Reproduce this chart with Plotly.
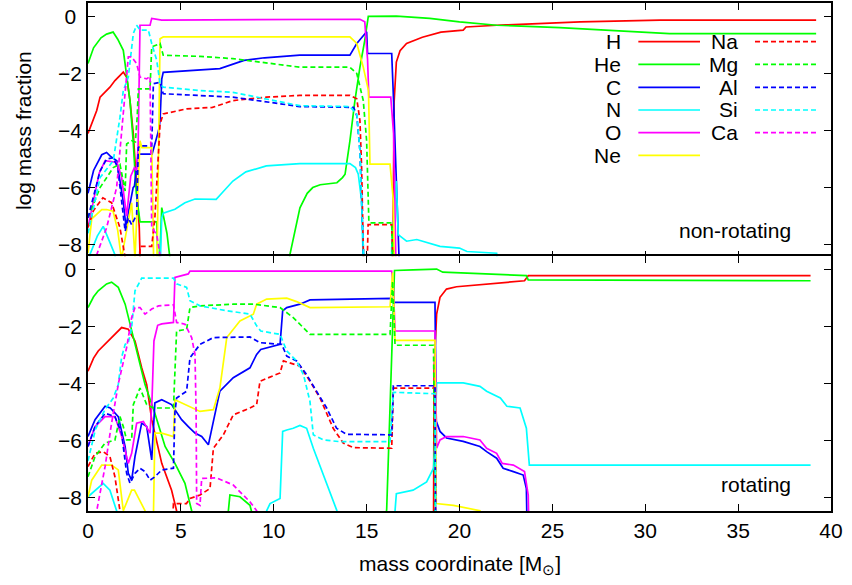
import plotly.graph_objects as go
from plotly.subplots import make_subplots

# ---------------- non-rotating (top panel) ----------------
nr_H_x = [0, 0.47, 0.65, 1.18, 1.45, 1.9, 2.08, 2.26, 2.44, 2.62, 2.76, 2.85, 16.4, 16.48, 16.6, 16.8, 17.15, 18.0, 19.0, 20.2, 20.35, 22.0, 26.5, 30.8, 39.2]
nr_H_y = [-4.1, -3.3, -2.83, -2.48, -2.25, -1.95, -2.13, -2.95, -4.12, -6.0, -7.41, -9.5, -9.5, -3.0, -1.6, -1.2, -0.95, -0.73, -0.55, -0.48, -0.37, -0.31, -0.19, -0.13, -0.13]
nr_He_x = [0, 0.3, 0.7, 1.0, 1.35, 1.6, 1.9, 2.26, 2.43, 2.6, 2.8, 3.7, 3.8, 3.97, 4.25, 4.6, 10.7, 10.87, 11.41, 11.8, 12.1, 12.5, 13.4, 13.7, 13.84, 14.1, 14.37, 14.64, 14.9, 15.09, 16.6, 18.4, 20.0, 22.0, 25.4, 31.3, 39.2]
nr_He_y = [-1.65, -1.1, -0.75, -0.62, -0.55, -0.8, -1.19, -2.95, -4.36, -6.2, -7.2, -7.2, -9.5, -6.7, -7.6, -9.5, -9.5, -8.35, -6.71, -6.2, -6.0, -5.9, -5.83, -5.65, -5.53, -4.36, -2.95, -1.78, -0.84, 0.0, 0.01, -0.07, -0.19, -0.31, -0.39, -0.6, -0.6]
nr_C_x = [0, 0.3, 0.74, 1.0, 1.2, 1.55, 1.9, 2.0, 2.05, 2.15, 2.43, 2.5, 2.65, 2.7, 3.45, 3.8, 3.88, 3.97, 4.05, 6.03, 7.1, 8.4, 9.5, 11.4, 14.1, 14.47, 14.8, 15.0, 15.05, 16.35, 16.45, 16.8]
nr_C_y = [-6.2, -5.4, -4.85, -4.77, -4.9, -5.06, -6.5, -7.0, -7.4, -6.95, -6.0, -5.95, -5.2, -4.83, -4.83, -4.0, -3.65, -2.2, -1.96, -1.89, -1.83, -1.54, -1.45, -1.36, -1.36, -0.95, -0.7, -0.54, -1.3, -1.3, -2.95, -9.5]
nr_N_x = [0.05, 0.1, 0.5, 0.82, 1.1, 1.45, 1.6, 3.85, 3.97, 4.05, 4.68, 5.22, 5.76, 6.9, 7.2, 7.8, 8.5, 9.6, 11.4, 14.1, 14.4, 14.55, 14.73, 14.8, 14.85, 16.3, 16.35, 16.6, 16.7, 17.15, 17.7, 18.95, 20.0, 20.4, 22.0, 22.1]
nr_N_y = [-9.5, -8.35, -7.7, -7.36, -7.8, -8.35, -9.5, -9.5, -7.06, -6.9, -6.76, -6.53, -6.4, -6.41, -6.2, -5.77, -5.45, -5.24, -5.16, -5.16, -5.3, -5.53, -6.47, -8.35, -9.5, -9.5, -8.12, -5.77, -7.65, -7.88, -7.82, -8.06, -8.12, -8.24, -8.3, -9.5]
nr_O_x = [0, 0.3, 0.6, 0.92, 1.55, 1.8, 2.08, 2.3, 2.5, 2.62, 2.7, 2.8, 3.34, 3.43, 3.97, 14.64, 14.9, 15.05, 15.12, 16.3, 16.45, 16.6]
nr_O_y = [-7.4, -6.5, -5.5, -5.06, -5.12, -5.6, -7.0, -5.6, -5.3, -5.4, -4.5, -0.31, -0.31, -0.07, -0.13, -0.1, -0.19, -1.5, -2.83, -2.83, -4.1, -9.5]
nr_Ne_x = [0, 0.2, 0.74, 1.0, 1.35, 1.6, 1.8, 2.35, 2.53, 2.62, 2.8, 2.9, 3.43, 3.5, 3.55, 3.7, 3.85, 3.88, 4.05, 11.4, 14.1, 14.47, 14.82, 15.1, 15.14, 15.18, 16.26, 16.44, 16.5]
nr_Ne_y = [-8.3, -7.1, -6.77, -6.77, -6.83, -7.5, -8.5, -6.53, -8.5, -6.95, -4.36, -4.6, -4.6, -6.95, -9.5, -9.5, -1.5, -0.78, -0.72, -0.72, -0.72, -0.95, -1.78, -2.6, -4.36, -5.18, -5.18, -6.47, -9.5]
nr_Na_x = [0, 0.3, 0.8, 1.27, 1.72, 2.0, 2.05, 2.7, 2.8, 3.43, 3.6, 3.77, 3.88, 4.05, 5.3, 6.7, 7.8, 9.6, 11.4, 14.1, 14.47, 14.64, 14.73, 14.82, 14.9, 15.0, 15.08, 16.35, 16.45]
nr_Na_y = [-7.4, -6.8, -6.36, -6.53, -7.41, -8.45, -9.5, -9.5, -8.06, -8.06, -7.06, -4.83, -3.77, -3.42, -3.24, -3.19, -2.95, -2.83, -2.77, -2.77, -2.89, -3.65, -5.3, -8.12, -9.5, -9.5, -7.3, -7.3, -9.5]
nr_Mg_x = [0, 0.65, 1.36, 1.72, 2.0, 2.08, 2.35, 2.55, 2.65, 2.71, 3.34, 3.43, 3.88, 4.05, 6.03, 7.8, 11.4, 14.1, 14.47, 14.82, 15.0, 15.12, 15.2, 16.35, 16.45]
nr_Mg_y = [-7.06, -6.0, -5.3, -5.18, -6.12, -4.47, -4.36, -4.4, -3.5, -2.54, -2.54, -1.07, -0.95, -1.36, -1.4, -1.48, -1.78, -1.78, -2.0, -2.95, -4.36, -7.18, -7.24, -7.24, -9.5]
nr_Al_x = [0, 0.65, 1.0, 1.36, 1.6, 2.0, 2.17, 2.35, 2.62, 2.71, 2.8, 3.43, 3.52, 3.88, 4.05, 6.03, 7.8, 11.4, 14.3, 14.47, 14.64, 14.73, 14.82, 14.9]
nr_Al_y = [-7.06, -5.42, -5.0, -4.95, -5.3, -7.53, -7.06, -7.3, -6.95, -4.6, -4.54, -4.54, -2.36, -2.31, -2.71, -2.77, -2.83, -3.16, -3.19, -3.48, -4.71, -6.47, -8.12, -9.5]
nr_Si_x = [0, 0.65, 1.36, 1.72, 1.9, 2.17, 2.44, 2.62, 2.8, 3.25, 3.43, 3.7, 3.88, 4.05, 6.03, 7.8, 11.4, 14.1, 14.47, 14.64, 14.73, 14.82, 14.9]
nr_Si_y = [-7.6, -5.65, -5.06, -3.54, -2.6, -2.13, -0.6, -0.31, -0.48, -0.48, -0.95, -1.54, -2.36, -2.48, -2.6, -2.66, -3.13, -3.16, -3.42, -4.71, -6.47, -8.12, -9.5]
nr_Ca_x = [0.4, 0.47, 1.0, 1.54, 1.72, 1.9, 2.08, 2.17, 2.35, 2.62, 2.8, 3.16, 3.34, 3.43, 3.7, 3.9, 3.95]
nr_Ca_y = [-9.5, -8.35, -7.41, -6.0, -4.71, -3.3, -2.01, -1.42, -1.42, -1.66, -2.13, -2.19, -2.1, -7.4, -7.65, -8.45, -9.5]

# ---------------- rotating (bottom panel) ----------------
r_H_x = [0, 0.3, 0.55, 0.92, 1.45, 1.81, 2.17, 2.53, 2.89, 3.16, 3.43, 3.97, 4.5, 4.77, 4.8, 18.6, 18.63, 18.77, 18.95, 19.3, 19.84, 21.1, 22.9, 23.5, 23.7, 38.9]
r_H_y = [-3.56, -3.1, -2.85, -2.62, -2.27, -2.03, -2.09, -2.5, -3.44, -4.03, -5.26, -6.79, -7.73, -8.45, -9.5, -9.5, -3.5, -1.56, -0.97, -0.68, -0.6, -0.53, -0.44, -0.39, -0.21, -0.21]
r_He_x = [0, 0.3, 0.55, 1.0, 1.27, 1.63, 2.0, 2.35, 2.71, 3.07, 3.6, 4.15, 4.68, 5.22, 5.58, 5.62, 7.4, 7.64, 8.18, 8.72, 9.2, 15.9, 16.08, 16.5, 17.5, 18.77, 19.1, 21.1, 23.6, 23.7, 38.9]
r_He_y = [-1.33, -0.95, -0.74, -0.5, -0.44, -0.62, -1.21, -2.15, -3.09, -4.03, -5.03, -6.2, -6.79, -7.49, -8.45, -9.5, -9.5, -7.9, -7.96, -8.26, -9.5, -9.5, -8.4, -0.03, -0.01, 0.02, -0.09, -0.15, -0.21, -0.36, -0.39]
r_C_x = [0, 0.38, 0.92, 1.2, 1.63, 2.0, 2.17, 2.35, 2.53, 2.89, 3.16, 3.43, 3.6, 3.97, 4.5, 5.04, 5.4, 5.76, 6.12, 6.48, 6.75, 7.1, 7.82, 8.72, 9.08, 9.3, 10.34, 10.48, 10.7, 11.41, 11.95, 16.35, 16.45, 18.68, 18.75, 18.95, 19.3, 20.2, 21.1, 21.46, 22.0, 22.35, 22.9, 23.43, 23.6, 23.65]
r_C_y = [-5.85, -5.26, -4.79, -4.85, -5.15, -6.2, -7.14, -7.38, -6.55, -5.38, -5.5, -6.67, -4.67, -4.56, -4.73, -5.26, -5.5, -5.73, -5.85, -6.14, -5.32, -4.26, -3.79, -3.44, -2.97, -2.8, -2.62, -1.44, -1.33, -1.21, -1.06, -1.01, -1.15, -1.15, -5.32, -5.67, -5.9, -6.02, -6.2, -6.38, -6.61, -6.96, -7.08, -7.2, -7.67, -9.5]
r_N_x = [0, 0.38, 0.82, 1.18, 1.54, 1.6, 9.55, 9.62, 9.8, 10.34, 10.48, 10.7, 11.05, 11.41, 11.77, 12.13, 13.4, 13.45, 16.45, 16.53, 16.6, 17.5, 18.23, 18.6, 18.68, 18.77, 20.2, 21.1, 21.46, 22.2, 22.55, 23.26, 23.6, 23.76, 38.9]
r_N_y = [-7.96, -7.73, -7.49, -7.73, -8.45, -9.5, -9.5, -8.45, -8.2, -8.02, -5.67, -5.62, -5.56, -5.46, -5.56, -6.26, -8.45, -9.5, -9.5, -8.45, -7.85, -7.73, -7.44, -6.96, -6.0, -3.97, -3.97, -4.09, -4.26, -4.5, -4.79, -4.85, -5.56, -6.85, -6.85]
r_O_x = [0, 0.38, 0.92, 1.45, 1.81, 2.17, 2.35, 2.62, 2.98, 3.34, 3.45, 3.55, 3.75, 3.97, 4.6, 4.68, 5.4, 5.49, 16.35, 16.44, 16.53, 18.68, 18.77, 18.95, 19.3, 20.2, 21.1, 21.46, 22.0, 22.3, 22.9, 23.5, 23.7, 23.75]
r_O_y = [-6.2, -5.5, -5.15, -5.15, -5.85, -6.79, -6.44, -5.38, -5.32, -5.73, -4.5, -2.5, -1.95, -1.9, -1.85, -0.27, -0.15, -0.05, -0.05, -0.62, -2.15, -2.15, -6.26, -5.97, -5.85, -5.85, -5.97, -6.26, -6.44, -6.79, -6.85, -7.08, -7.9, -9.5]
r_Ne_x = [0, 0.2, 0.74, 1.27, 1.63, 1.9, 2.35, 2.5, 3.07, 3.1, 3.5, 3.6, 3.97, 4.6, 4.68, 5.04, 5.49, 6.03, 6.75, 7.1, 7.47, 8.18, 8.9, 9.08, 9.62, 10.34, 10.7, 11.23, 11.95, 16.26, 16.4, 16.53, 18.68, 18.75, 19.67, 21.1, 21.2]
r_Ne_y = [-7.96, -7.38, -6.85, -6.85, -7.02, -8.45, -7.73, -7.73, -8.45, -9.5, -9.5, -5.73, -5.73, -5.85, -4.56, -4.67, -4.79, -4.97, -4.91, -4.15, -2.38, -1.8, -1.56, -1.21, -1.03, -1.01, -1.0, -1.12, -1.33, -1.3, -0.1, -2.48, -2.48, -8.2, -8.26, -8.45, -9.5]
r_Na_x = [0, 0.38, 0.82, 1.18, 1.45, 1.72, 1.75, 4.5, 4.6, 5.3, 5.49, 6.03, 6.57, 6.75, 7.29, 7.82, 8.72, 9.08, 9.26, 10.34, 10.52, 11.41, 11.95, 12.49, 13.2, 13.74, 14.28, 16.35, 16.44, 18.68, 18.72]
r_Na_y = [-6.9, -6.44, -6.38, -6.55, -7.26, -8.45, -9.5, -9.5, -8.2, -8.2, -8.02, -7.9, -7.67, -6.26, -5.79, -5.09, -4.85, -4.73, -3.91, -3.62, -3.2, -3.38, -3.91, -4.5, -5.56, -6.08, -6.24, -6.26, -4.15, -4.15, -9.5]
r_Mg_x = [0, 0.38, 0.92, 1.45, 1.72, 1.9, 2.08, 2.35, 2.44, 2.8, 3.16, 3.52, 4.6, 4.77, 5.31, 5.49, 6.03, 7.82, 8.9, 10.34, 11.05, 11.95, 16.26, 16.4, 16.53, 18.6, 18.7]
r_Mg_y = [-7.26, -6.55, -6.08, -5.97, -5.15, -5.5, -5.97, -5.97, -4.73, -4.15, -4.73, -4.85, -4.85, -2.15, -2.09, -1.33, -1.27, -1.21, -1.21, -1.33, -1.68, -2.27, -2.27, -0.4, -2.65, -2.65, -9.5]
r_Al_x = [0, 0.38, 0.92, 1.45, 1.81, 2.08, 2.26, 2.53, 2.8, 3.07, 3.34, 3.6, 3.97, 4.6, 4.68, 4.77, 5.31, 5.49, 6.03, 6.75, 8.72, 9.26, 10.43, 10.7, 11.23, 11.77, 12.3, 12.85, 13.38, 13.92, 16.35, 16.44, 18.68, 18.72]
r_Al_y = [-6.2, -5.5, -5.03, -5.15, -5.73, -7.14, -7.49, -7.14, -6.96, -7.08, -7.38, -7.26, -7.02, -6.96, -5.0, -4.5, -4.26, -3.09, -2.62, -2.38, -2.36, -2.56, -2.62, -3.03, -3.2, -3.68, -4.26, -4.85, -5.56, -5.77, -5.79, -4.07, -4.07, -9.5]
r_Si_x = [0, 0.4, 0.92, 1.36, 1.63, 1.81, 2.0, 2.17, 2.35, 2.53, 2.89, 4.6, 4.77, 5.31, 5.49, 6.03, 7.47, 8.72, 9.08, 9.3, 10.34, 10.7, 11.23, 11.6, 11.95, 12.13, 12.67, 13.56, 16.26, 16.44, 18.68, 18.72]
r_Si_y = [-6.7, -5.6, -4.9, -4.5, -4.03, -3.07, -2.62, -2.56, -2.03, -0.74, -0.3, -0.3, -0.5, -0.62, -1.09, -1.27, -1.44, -1.56, -1.97, -2.15, -2.27, -2.85, -3.2, -3.68, -4.62, -5.79, -5.97, -6.03, -6.03, -4.3, -4.35, -9.5]
r_Ca_x = [0.4, 0.47, 0.92, 1.27, 1.65, 2.08, 2.35, 2.53, 2.8, 3.07, 3.43, 3.79, 4.6, 4.77, 5.22, 5.58, 5.76, 5.82, 5.85, 6.03, 6.12, 6.93, 7.82, 8.72, 9.08, 9.15]
r_Ca_y = [-9.5, -8.45, -6.9, -5.38, -3.95, -2.73, -1.68, -1.33, -1.33, -1.56, -1.38, -1.27, -1.23, -1.85, -1.91, -2.38, -2.97, -5.0, -8.2, -8.26, -7.32, -7.3, -7.55, -8.14, -8.45, -9.5]

species = ["H", "He", "C", "N", "O", "Ne", "Na", "Mg", "Al", "Si", "Ca"]
colors = ["#ff0000", "#00ff00", "#0000ff", "#00ffff", "#ff00ff", "#ffff00",
          "#ff0000", "#00ff00", "#0000ff", "#00ffff", "#ff00ff"]
dashed = [False] * 6 + [True] * 5
x_ticks = [0, 5, 10, 15, 20, 25, 30, 35, 40]
y_ticks = [-8, -6, -4, -2, 0]
y_tick_text = ["\u22128", "\u22126", "\u22124", "\u22122", "0\u00a0"]

top_series = [(nr_H_x, nr_H_y), (nr_He_x, nr_He_y), (nr_C_x, nr_C_y), (nr_N_x, nr_N_y),
              (nr_O_x, nr_O_y), (nr_Ne_x, nr_Ne_y), (nr_Na_x, nr_Na_y), (nr_Mg_x, nr_Mg_y),
              (nr_Al_x, nr_Al_y), (nr_Si_x, nr_Si_y), (nr_Ca_x, nr_Ca_y)]
bot_series = [(r_H_x, r_H_y), (r_He_x, r_He_y), (r_C_x, r_C_y), (r_N_x, r_N_y),
              (r_O_x, r_O_y), (r_Ne_x, r_Ne_y), (r_Na_x, r_Na_y), (r_Mg_x, r_Mg_y),
              (r_Al_x, r_Al_y), (r_Si_x, r_Si_y), (r_Ca_x, r_Ca_y)]

FONT = "Liberation Sans, Arial, Helvetica, sans-serif"
DASH = "5px,3px"

fig = make_subplots(rows=2, cols=1, shared_xaxes=True, vertical_spacing=0)

for row, series in ((1, top_series), (2, bot_series)):
    for name, col, dsh, (xs, ys) in zip(species, colors, dashed, series):
        fig.add_trace(go.Scatter(x=xs, y=ys, mode="lines", name=name,
                                 line=dict(color=col, width=1.7, dash=DASH if dsh else "solid"),
                                 showlegend=False, hoverinfo="skip"), row=row, col=1)

axis_common = dict(showline=True, linecolor="black", linewidth=1.5, mirror="ticks",
                   ticks="inside", ticklen=7, tickwidth=1.3, tickcolor="black",
                   showgrid=False, zeroline=False, automargin=False,
                   tickfont=dict(family=FONT, size=21, color="black"))
for r in (1, 2):
    fig.update_xaxes(range=[0, 40], tickvals=x_ticks, row=r, col=1, **axis_common)
    fig.update_yaxes(range=[-8.46, 0.47], tickvals=y_ticks, ticktext=y_tick_text,
                     row=r, col=1, **axis_common)
fig.update_xaxes(showticklabels=False, row=1, col=1)
fig.update_xaxes(showticklabels=True, row=2, col=1)
fig.update_yaxes(domain=[0.4985, 1.0], row=1, col=1)
fig.update_yaxes(domain=[0.0, 0.5015], row=2, col=1)

# gnuplot-style legend (label right-aligned, sample line to its right)
row_y = [0.9238, 0.8793, 0.8341, 0.7894, 0.7447, 0.7002]
annotations = []
shapes = []
for i, (name, col, dsh) in enumerate(zip(species, colors, dashed)):
    if i < 6:
        tx, x0, x1, yy = 0.7205, 0.7407, 0.8237, row_y[i]
    else:
        tx, x0, x1, yy = 0.8775, 0.8977, 0.9816, row_y[i - 6]
    annotations.append(dict(text=name, x=tx, y=yy, xref="paper", yref="paper",
                            xanchor="right", yanchor="middle", showarrow=False,
                            font=dict(family=FONT, size=21, color="black")))
    shapes.append(dict(type="line", xref="paper", yref="paper", x0=x0, x1=x1, y0=yy, y1=yy,
                       line=dict(color=col, width=1.7, dash=DASH if dsh else "solid")))

annotations += [
    dict(text="non-rotating", x=0.9489, y=0.5531, xref="paper", yref="paper",
         xanchor="right", yanchor="middle", showarrow=False,
         font=dict(family=FONT, size=21, color="black")),
    dict(text="rotating", x=0.9489, y=0.0512, xref="paper", yref="paper",
         xanchor="right", yanchor="middle", showarrow=False,
         font=dict(family=FONT, size=21, color="black")),
    dict(text="log mass fraction", x=-0.0875, y=0.75, xref="paper", yref="paper",
         xanchor="center", yanchor="middle", textangle=-90, showarrow=False,
         font=dict(family=FONT, size=21, color="black")),
    dict(text="mass coordinate [M<sub>⊙</sub>]", x=0.5, y=-0.1063, xref="paper", yref="paper",
         xanchor="center", yanchor="middle", showarrow=False,
         font=dict(family=FONT, size=21, color="black")),
]

fig.update_layout(template="none", width=852, height=585,
                  margin=dict(l=88, r=21, t=3, b=74, autoexpand=False),
                  paper_bgcolor="white", plot_bgcolor="white",
                  annotations=annotations, shapes=shapes, showlegend=False,
                  font=dict(family=FONT, size=21, color="black"))

fig.write_html("out.html", config={"displayModeBar": False},
               post_script="document.body.style.margin='0';document.body.style.overflow='hidden';")
